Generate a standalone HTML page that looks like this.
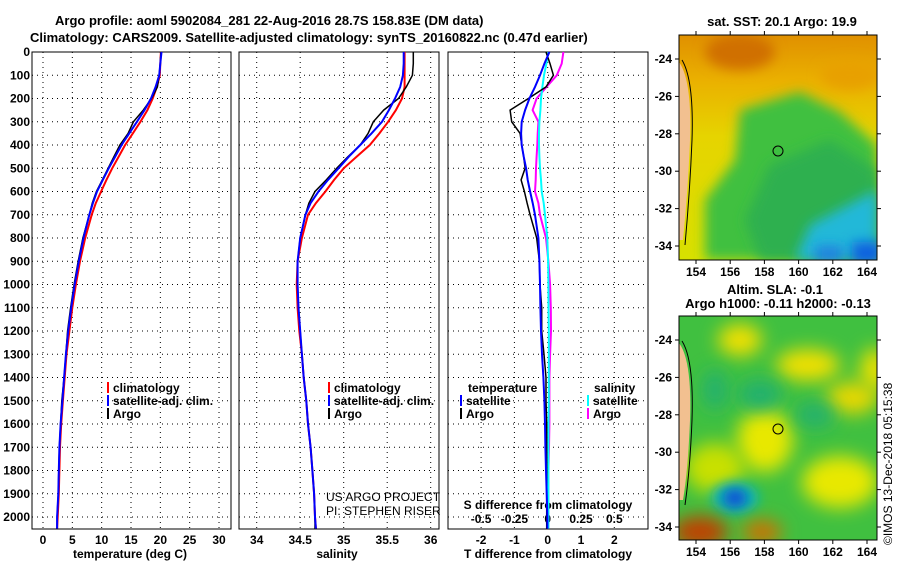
<!DOCTYPE html>
<html><head><meta charset="utf-8">
<style>
html,body{margin:0;padding:0;background:#fff;}
svg{display:block;font-family:"Liberation Sans",sans-serif;}
.t{font-weight:bold;font-size:12px;fill:#000;}
.ti{font-weight:bold;font-size:13px;fill:#000;}
</style></head>
<body>
<svg id="c" width="900" height="580" viewBox="0 0 900 580">
<defs>
<filter id="b6" x="-100%" y="-100%" width="300%" height="300%"><feGaussianBlur stdDeviation="6"/></filter>
<filter id="b10" x="-100%" y="-100%" width="300%" height="300%"><feGaussianBlur stdDeviation="9"/></filter>
<linearGradient id="sstg" x1="0" y1="0" x2="0" y2="1">
<stop offset="0" stop-color="#e09000"/><stop offset="0.2" stop-color="#eab000"/><stop offset="0.45" stop-color="#e6d400"/><stop offset="1" stop-color="#d8e000"/>
</linearGradient>
<clipPath id="m1"><rect x="679" y="35" width="198" height="225"/></clipPath>
<clipPath id="m2"><rect x="679" y="316" width="198" height="224"/></clipPath>
</defs>
<text class="ti" x="55" y="25">Argo profile: aoml 5902084_281 22-Aug-2016 28.7S 158.83E (DM data)</text>
<text class="ti" x="30" y="42">Climatology: CARS2009. Satellite-adjusted climatology: synTS_20160822.nc (0.47d earlier)</text>

<!-- SST map -->
<g clip-path="url(#m1)">
<rect x="679" y="35" width="198" height="225" fill="url(#sstg)"/>
<ellipse cx="740" cy="52" rx="35" ry="18" fill="#d07000" filter="url(#b6)"/>
<ellipse cx="850" cy="75" rx="30" ry="15" fill="#e8a000" filter="url(#b6)"/>
<path d="M740 110 L800 92 L840 112 L877 145 L877 260 L705 260 L705 200 L735 160 Z" fill="#40c040" filter="url(#b6)"/>
<path d="M770 165 L830 140 L877 170 L877 260 L760 260 L745 220 Z" fill="#2db050" filter="url(#b6)"/>
<path d="M810 225 L877 190 L877 260 L795 260 Z" fill="#20b8d8" filter="url(#b6)"/>
<rect x="852" y="242" width="30" height="22" fill="#1060e0" filter="url(#b6)"/>
<rect x="815" y="246" width="28" height="16" fill="#2080e0" filter="url(#b6)"/>
<path d="M679 62 Q692 80 690 140 Q688 190 683 240 L679 240 Z" fill="#f2c090"/>
<path d="M682 60 Q694 80 692 140 Q690 190 685 245" fill="none" stroke="#000" stroke-width="1"/>
<circle cx="778" cy="151" r="5" fill="none" stroke="#000"/>
</g>
<rect x="679" y="35" width="198" height="225" fill="none" stroke="#000"/>
<text class="ti" x="782" y="26" text-anchor="middle">sat. SST: 20.1 Argo: 19.9</text>

<!-- SLA map -->
<g clip-path="url(#m2)">
<rect x="679" y="316" width="198" height="224" fill="#40c040"/>
<ellipse cx="740" cy="340" rx="22" ry="16" fill="#f0e000" filter="url(#b10)"/>
<ellipse cx="808" cy="365" rx="32" ry="16" fill="#f0e000" filter="url(#b10)"/>
<ellipse cx="875" cy="370" rx="15" ry="22" fill="#e8e000" filter="url(#b10)"/>
<ellipse cx="852" cy="398" rx="26" ry="16" fill="#e8d800" filter="url(#b10)"/>
<ellipse cx="765" cy="440" rx="28" ry="32" fill="#e8e800" filter="url(#b10)"/>
<ellipse cx="840" cy="482" rx="38" ry="26" fill="#e8e800" filter="url(#b10)"/>
<ellipse cx="715" cy="468" rx="30" ry="25" fill="#c8e000" filter="url(#b10)"/>
<ellipse cx="715" cy="390" rx="12" ry="20" fill="#20b070" filter="url(#b10)"/>
<ellipse cx="760" cy="395" rx="22" ry="15" fill="#20b070" filter="url(#b10)"/>
<ellipse cx="815" cy="415" rx="20" ry="12" fill="#20b070" filter="url(#b10)"/>
<ellipse cx="735" cy="498" rx="24" ry="16" fill="#10b8b0" filter="url(#b6)"/>
<ellipse cx="735" cy="498" rx="12" ry="9" fill="#1050d8" filter="url(#b6)"/>
<ellipse cx="700" cy="532" rx="28" ry="16" fill="#c04000" filter="url(#b10)"/>
<ellipse cx="762" cy="532" rx="20" ry="12" fill="#d07000" filter="url(#b10)"/>
<path d="M679 343 Q692 360 690 420 Q688 470 683 500 L679 500 Z" fill="#f2c090"/>
<path d="M682 341 Q694 360 692 420 Q690 470 685 505" fill="none" stroke="#000" stroke-width="1"/>
<circle cx="778" cy="429" r="5" fill="none" stroke="#000"/>
</g>
<rect x="679" y="316" width="198" height="224" fill="none" stroke="#000"/>
<text class="ti" x="775" y="294" text-anchor="middle">Altim. SLA: -0.1</text>
<text class="ti" x="778" y="308" text-anchor="middle">Argo h1000: -0.11 h2000: -0.13</text>
<text x="892" y="545" font-size="12" transform="rotate(-90 892 545)">©IMOS 13-Dec-2018 05:15:38</text>
<g id="g"></g>
</svg>
<script>
const depths = [0,50,100,150,200,250,300,350,400,450,500,550,600,650,700,800,900,1000,1100,1200,1300,1400,1500,1600,1700,1800,1900,2000,2050];
const tempClim = [20.1,20.0,19.9,19.4,18.7,17.8,16.6,15.3,14.0,12.9,11.8,10.8,9.9,9.0,8.3,7.2,6.3,5.6,5.0,4.5,4.0,3.7,3.4,3.1,2.9,2.8,2.7,2.5,2.4];
const tempSat = [20.2,20.0,19.8,19.2,18.4,17.3,16.0,14.7,13.4,12.3,11.2,10.2,9.2,8.5,7.9,6.9,6.1,5.4,4.8,4.3,3.9,3.6,3.3,3.0,2.8,2.7,2.6,2.4,2.4];
const tempArgo = [20.1,20.0,19.8,19.5,18.5,17.1,15.4,14.5,13.1,12.1,11.1,10.1,9.1,8.4,7.9,6.8,6.0,5.3,4.7,4.2,3.9,3.6,3.2,3.0,2.8,2.7,2.6,2.4,2.4];
const salClim = [35.70,35.70,35.70,35.70,35.67,35.60,35.51,35.41,35.30,35.15,35.00,34.89,34.79,34.68,34.59,34.52,34.47,34.46,34.47,34.49,34.52,34.54,34.57,34.59,34.62,34.64,34.66,34.67,34.68];
const salSat = [35.69,35.69,35.68,35.65,35.59,35.52,35.44,35.32,35.19,35.06,34.94,34.82,34.71,34.62,34.56,34.50,34.47,34.47,34.48,34.50,34.52,34.54,34.57,34.59,34.62,34.64,34.66,34.67,34.68];
const salArgo = [35.80,35.80,35.79,35.72,35.63,35.46,35.34,35.28,35.19,35.05,34.92,34.80,34.67,34.60,34.56,34.50,34.47,34.47,34.48,34.50,34.52,34.54,34.57,34.59,34.62,34.64,34.66,34.67,34.67];
const dTSat = [0.05,-0.10,-0.23,-0.38,-0.55,-0.68,-0.78,-0.80,-0.78,-0.72,-0.65,-0.60,-0.53,-0.45,-0.38,-0.28,-0.25,-0.23,-0.22,-0.20,-0.17,-0.13,-0.10,-0.08,-0.07,-0.05,-0.03,-0.01,-0.01];
const dTArgo = [-0.05,0.07,0.17,-0.05,-0.58,-1.13,-1.08,-0.83,-0.78,-0.72,-0.68,-0.80,-0.70,-0.62,-0.53,-0.33,-0.25,-0.23,-0.18,-0.18,-0.11,-0.05,-0.05,-0.03,-0.03,-0.03,-0.03,-0.03,-0.03];
const dSSat = [0.005,-0.01,-0.028,-0.04,-0.05,-0.055,-0.062,-0.065,-0.065,-0.062,-0.058,-0.05,-0.045,-0.03,-0.02,-0.003,0.003,0.005,0.006,0.008,0.008,0.008,0.008,0.006,0.005,0.005,0.005,0.005,0.005];
const dSArgo = [0.118,0.105,0.068,-0.008,-0.083,-0.113,-0.07,-0.075,-0.078,-0.083,-0.088,-0.09,-0.095,-0.07,-0.058,-0.013,0.005,0.018,0.023,0.025,0.018,0.013,0.013,0.013,0.01,0.005,0.005,0.005,0.005];
const depthTicks = [0,100,200,300,400,500,600,700,800,900,1000,1100,1200,1300,1400,1500,1600,1700,1800,1900,2000];
const tempTicks = [0,5,10,15,20,25,30];
const salTicks = [34,34.5,35,35.5,36];
const dTTicks = [-2,-1,0,1,2];
const dSTicks = [-0.5,-0.25,0,0.25,0.5];
const lonTicks = [154,156,158,160,162,164];
const latTicks = [-24,-26,-28,-30,-32,-34];

const NS='http://www.w3.org/2000/svg';
const G=document.getElementById('g');
function mk(tag,at,parent){const e=document.createElementNS(NS,tag);for(const k in at)e.setAttribute(k,at[k]);(parent||G).appendChild(e);return e;}
const Y=d=>52+d*0.2325;
const xT=v=>43+v*5.867;
const xS=v=>256.7+(v-34)*87;
const xdT=v=>547.7+v*33.3;
const xdS=v=>547.7+v*133.2;
const panels=[[32,231],[239,439],[448,648]];

function grid(x0,x1,xs){
  depthTicks.forEach(d=>{const l=mk('line',{x1:x0,x2:x1,y1:Y(d),y2:Y(d),stroke:'#000','stroke-dasharray':'1,4','stroke-width':1});
  
  });
  xs.forEach(x=>{const l=mk('line',{x1:x,x2:x,y1:52,y2:529,stroke:'#000','stroke-dasharray':'1,4','stroke-width':1});
  
  });
}
grid(32,231,tempTicks.map(xT));
grid(239,439,salTicks.map(xS));
grid(448,648,dTTicks.map(xdT));
panels.forEach((p,i)=>{const r=mk('rect',{x:p[0],y:52,width:p[1]-p[0],height:477,fill:'none',stroke:'#000'});

});

function txt(s,x,y,cls,anchor,name,extra){const t=mk('text',Object.assign({x:x,y:y,class:cls||'t','text-anchor':anchor||'start'},extra||{}));t.textContent=s;

return t;}

depthTicks.forEach(d=>txt(String(d),30,Y(d)+4,'t','end','depth-tick-label'));
tempTicks.forEach(v=>txt(String(v),xT(v),544,'t','middle','temp-tick-label'));
salTicks.forEach(v=>txt(String(v),xS(v),544,'t','middle','sal-tick-label'));
dTTicks.forEach(v=>txt(String(v),xdT(v),544,'t','middle','dt-tick-label'));
dSTicks.forEach(v=>txt(String(v),xdS(v),523,'t','middle','ds-tick-label'));
txt('temperature (deg C)',130,558,'t','middle','x-axis-title-temp');
txt('salinity',337,558,'t','middle','x-axis-title-sal');
txt('T difference from climatology',548,558,'t','middle','x-axis-title-dt');
txt('S difference from climatology',548,509,'t','middle','x-axis-title-ds');
txt('US ARGO PROJECT',326,501,'t','start','credit-project').setAttribute('style','font-weight:normal');
txt('PI: STEPHEN RISER',326,515,'t','start','credit-pi').setAttribute('style','font-weight:normal');

function line(xs,ys,xf,col,name,w){
  const pts=xs.map((v,i)=>xf(v).toFixed(1)+','+Y(ys[i]).toFixed(1)).join(' ');
  const l=mk('polyline',{points:pts,fill:'none',stroke:col,'stroke-width':w||2});
  
  
}
line(tempClim,depths,xT,'#f00','temp-climatology-line');
line(tempArgo,depths,xT,'#000','temp-argo-line',1.5);
line(tempSat,depths,xT,'#00f','temp-satellite-line');
line(salClim,depths,xS,'#f00','sal-climatology-line');
line(salArgo,depths,xS,'#000','sal-argo-line',1.5);
line(salSat,depths,xS,'#00f','sal-satellite-line');
line(dSArgo,depths,xdS,'#f0f','ds-argo-line');
line(dSSat,depths,xdS,'#0ff','ds-satellite-line');
line(dTArgo,depths,xdT,'#000','dt-argo-line',1.5);
line(dTSat,depths,xdT,'#00f','dt-satellite-line');

function leg(x,y,col,label,name){
  const r=mk('rect',{x:x,y:y-10,width:2,height:11,fill:col});
  
  
  txt(label,x+6,y,'t','start',name);
}
[107,328].forEach(x0=>{
  leg(x0,392,'#f00','climatology','legend-climatology');
  leg(x0,405,'#00f','satellite-adj. clim.','legend-satellite');
  leg(x0,418,'#000','Argo','legend-argo');
});
txt('temperature',468,392,'t','start','legend-temp-header');
leg(460,405,'#00f','satellite','legend-dt-satellite');
leg(460,418,'#000','Argo','legend-dt-argo');
txt('salinity',594,392,'t','start','legend-sal-header');
leg(587,405,'#0ff','satellite','legend-ds-satellite');
leg(587,418,'#f0f','Argo','legend-ds-argo');

function mapAxes(top,bot,lat0y,name){
  lonTicks.forEach(l=>{const x=696+(l-154)*17.1;
    mk('line',{x1:x,x2:x,y1:bot,y2:bot+4,stroke:'#000'});
    mk('line',{x1:x,x2:x,y1:top,y2:top-4,stroke:'#000'});
    txt(String(l),x,bot+16,'t','middle',name+'-lon-label');});
  latTicks.forEach(l=>{const y=lat0y+(-24-l)*18.7;
    mk('line',{x1:675,x2:679,y1:y,y2:y,stroke:'#000'});
    mk('line',{x1:877,x2:881,y1:y,y2:y,stroke:'#000'});
    txt(String(l),672,y+4,'t','end',name+'-lat-label');});
}
mapAxes(35,260,59,'sst-map');
mapAxes(316,540,340,'sla-map');
</script>
</body></html>
